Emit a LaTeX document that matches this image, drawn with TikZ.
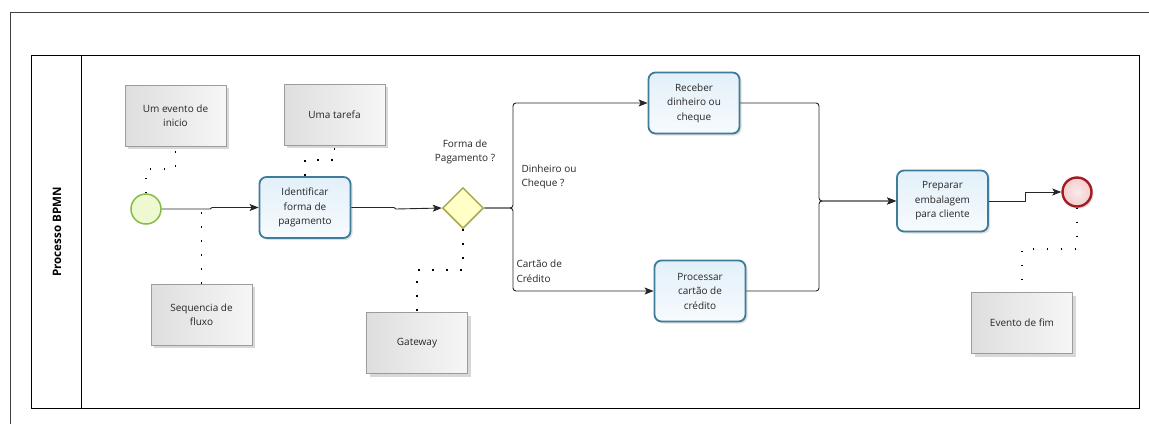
\documentclass[tikz,border=0pt]{standalone}
\usepackage{fontspec}
\setmainfont{Open Sans}
\usetikzlibrary{arrows.meta,shapes.geometric,shadows}
\definecolor{taskline}{HTML}{3F7C9B}
\definecolor{taskfill}{HTML}{E3F0F9}
\definecolor{startline}{HTML}{86BC46}
\definecolor{startfill}{HTML}{EEF9D2}
\definecolor{gwline}{HTML}{A9A84F}
\definecolor{gwfill}{HTML}{FFFFC6}
\definecolor{endline}{HTML}{A31A20}
\definecolor{endfill}{HTML}{F3CDCD}
\definecolor{noteline}{HTML}{9C9C9C}
\definecolor{notedark}{HTML}{DEDEDE}
\definecolor{notelight}{HTML}{F6F6F6}
\tikzset{
  txt/.style={font=\fontsize{10}{14.5}\selectfont, align=center, text=black!85},
  task/.style={txt, draw=taskline, line width=1.8pt, rounded corners=7pt,
    top color=taskfill, bottom color=white!70!taskfill,
    minimum width=91pt, minimum height=61pt, inner sep=2pt,
    drop shadow={shadow xshift=2pt, shadow yshift=-2pt, opacity=.25}},
  note/.style={txt, draw=noteline, line width=.6pt,
    left color=notedark, right color=notelight,
    minimum width=101pt, minimum height=61pt, inner sep=2pt,
    drop shadow={shadow xshift=3pt, shadow yshift=-3pt, opacity=.3}},
  startev/.style={circle, draw=startline, line width=1.5pt, fill=startfill,
    minimum size=30pt, inner sep=0pt},
  endev/.style={circle, draw=endline, line width=2.4pt,
    inner color=white!60!endfill, outer color=endfill,
    minimum size=29pt, inner sep=0pt,
    drop shadow={shadow xshift=2pt, shadow yshift=-2pt, opacity=.25}},
  gate/.style={diamond, aspect=1, draw=gwline, line width=1.5pt, fill=gwfill,
    minimum width=41pt, minimum height=41pt, inner sep=0pt},
  flow/.style={draw=black!85, line width=.9pt,
    -{Stealth[length=9pt,width=7pt,inset=2pt]}},
  assoc/.style={draw=black, line width=1.7pt, dash pattern=on 1.7pt off 12.3pt},
  lbl/.style={font=\fontsize{10}{14.5}\selectfont, text=black!85, align=left}
}
\begin{document}
\begin{tikzpicture}[x=1pt, y=-1pt]
\useasboundingbox (0,0) rectangle (1149,424);
\fill[white] (0,0) rectangle (1149,424);

% outer frame and pool with its lane header
\draw[black!75, line width=.8pt] (10,424) -- (10,12) -- (1149,12);
\draw[black, line width=.9pt] (31,55) rectangle (1139,408);
\draw[black, line width=.9pt] (81,55) -- (81,408);
\node[rotate=90, font=\fontsize{11.6}{13}\selectfont\bfseries] (lane) at (57,232) {Processo BPMN};

% flow objects
\node[startev] (start) at (146,209) {};
\node[task] (ident) at (305,207.5) {Identificar\\forma de\\pagamento};
\node[gate] (gw) at (463,208) {};
\node[task] (receber) at (694,103) {Receber\\dinheiro ou\\cheque};
\node[task] (cartao) at (700,291) {Processar\\cartão de\\crédito};
\node[task] (prep) at (942.5,201) {Preparar\\embalagem\\para cliente};
\node[endev] (fim) at (1077,192) {};

% annotations
\node[note] (n1) at (175.5,115.5) {Um evento de\\inicio};
\node[note] (n2) at (334.5,114.5) {Uma tarefa};
\node[note] (n3) at (201.5,314.5) {Sequencia de\\fluxo};
\node[note] (n4) at (417,343) {Gateway};
\node[note] (n5) at (1022,323) {Evento de fim};

% gateway labels
\node[lbl, align=center] (qforma) at (465,152) {Forma de\\Pagamento ?};
\node[lbl, anchor=west] (qdin) at (518,177) {Dinheiro ou\\Cheque ?};
\node[lbl, anchor=west] (qcart) at (513,271) {Cartão de\\Crédito};

% sequence flows
\draw[flow] (start.east) -- (210,209) -- (212,207.5) -- (ident.west);
\draw[flow] (ident.east) -- (394,207.5) -- (396,209) -- (gw.west);
\draw[flow, rounded corners=3pt] (gw.east) -- (513,208) |- (receber.west);
\draw[flow, rounded corners=3pt] (gw.east) -- (513,208) |- (cartao.west);
\draw[flow, rounded corners=3pt] (receber.east) -| (819,201) -- (prep.west);
\draw[flow, rounded corners=3pt] (cartao.east) -| (819,201) -- (prep.west);
\draw[flow] (prep.east) -- (1025,201) -- (1025,192) -- (fim.west);

% associations
\draw[assoc] (start.north) -- (146,169) -| (n1.south);
\draw[assoc] (ident.north) -- (305,160) -| (n2.south);
\draw[assoc] (n3.north) -- (n3.north |- start.center);
\draw[assoc] (gw.south) -- (463,270) -| (n4.north);
\draw[assoc] (fim.south) -- (1077,249) -| (n5.north);
\end{tikzpicture}
\end{document}
